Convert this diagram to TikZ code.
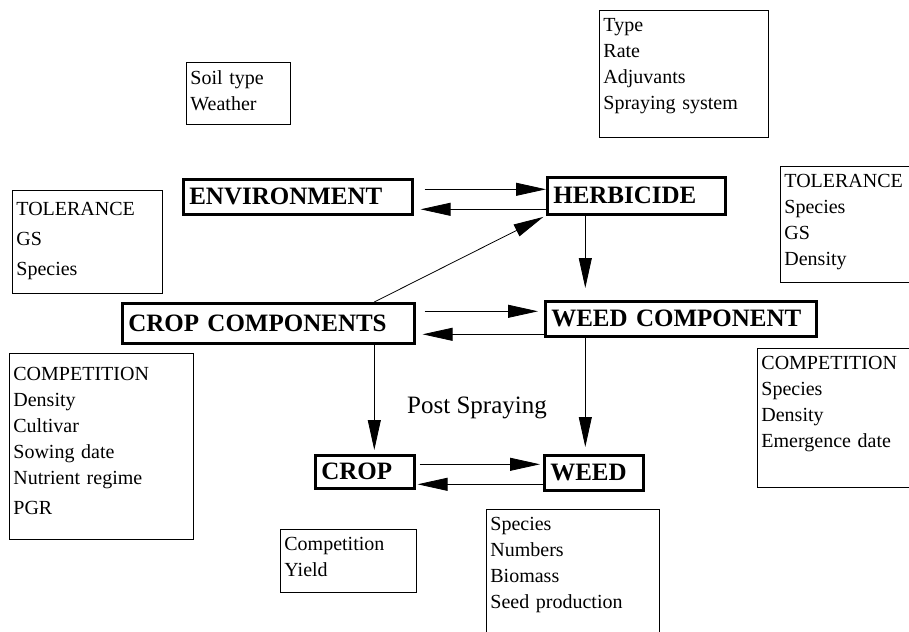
\documentclass[tikz,border=0pt]{standalone}
\usepackage{fontspec}
\setmainfont{Liberation Serif}
\usetikzlibrary{arrows.meta, positioning, calc}

% invisible rule that lengthens the last line of a box downwards
\newcommand{\boxpad}[1]{\rule[-#1pt]{0pt}{#1pt}}

\begin{document}
\begin{tikzpicture}[
		x=1pt, y=-1pt,
		mainbox/.style={draw, line width=2.6pt, inner xsep=6pt, inner ysep=0pt, align=left, anchor=north west, font=\bfseries\fontsize{25}{29}\selectfont},
		infobox/.style={draw, line width=0.8pt, inner xsep=4pt, inner ysep=8pt, align=left, anchor=north west, font=\fontsize{20}{26}\selectfont},
		arrow/.style={-{Triangle[length=30pt, width=13pt]}, line width=0.8pt}
		]
		\useasboundingbox (0,0) rectangle (909,631);
		
		% Nodes
		\node (environment) [mainbox, text width=217pt, minimum height=35pt] at (182,178) {ENVIRONMENT};
		\node (herbicide) [mainbox, text width=166pt, minimum height=37pt] at (546,176) {HERBICIDE};
		\node (cropcomp) [mainbox, text width=280pt, minimum height=40pt] at (121,302) {CROP COMPONENTS};
		\node (weedcomp) [mainbox, text width=259pt, minimum height=35pt] at (544,300) {WEED COMPONENT};
		\node (crop) [mainbox, text width=87pt, minimum height=33pt] at (314,454) {CROP};
		\node (weed) [mainbox, text width=87pt, minimum height=35pt] at (543,454) {WEED};
		\node (post) [font=\fontsize{25}{29}\selectfont] at (477,408) {Post Spraying};
		
		% Factor boxes
		\node (soil) [infobox, text width=96pt] at (186,62) {Soil type\\Weather\boxpad{6}};
		\node (spray) [infobox, text width=161pt] at (599,10) {Type\\Rate\\Adjuvants\\Spraying system\boxpad{20}};
		\node (croptol) [infobox, text width=142pt] at (12,190) {\rule{0pt}{17pt}TOLERANCE\\[4pt]GS\\[4pt]Species\boxpad{10}};
		\node (weedtol) [infobox, text width=140pt] at (780,166) {TOLERANCE\\Species\\GS\\Density\boxpad{9}};
		\node (cropcompet) [infobox, text width=176pt] at (9,353) {\rule{0pt}{19pt}COMPETITION\\Density\\Cultivar\\Sowing date\\Nutrient regime\\[4pt]PGR\boxpad{17}};
		\node (weedcompet) [infobox, text width=160pt] at (757,348) {COMPETITION\\Species\\Density\\Emergence date\boxpad{32}};
		\node (cropout) [infobox, text width=128pt] at (280,529) {Competition\\Yield\boxpad{8}};
		\node (weedout) [infobox, text width=165pt] at (486,509) {Species\\Numbers\\Biomass\\Seed production\boxpad{34}};
		
		% Arrows
		\draw[arrow, shorten <=11pt] ([yshift=7.5pt]environment.east) -- ([yshift=6.5pt]herbicide.west);
		\draw[arrow, shorten >=7pt] ([yshift=-13.5pt]herbicide.west) -- ([yshift=-12.5pt]environment.east);
		\draw[arrow, shorten <=9pt, shorten >=6pt] ([yshift=12pt]cropcomp.east) -- ([yshift=7.5pt]weedcomp.west);
		\draw[arrow, shorten >=7pt] ([yshift=-15.5pt]weedcomp.west) -- ([yshift=-11pt]cropcomp.east);
		\draw[arrow, shorten <=4pt, shorten >=3pt] ([yshift=7.5pt]crop.east) -- ([yshift=8.5pt]weed.west);
		\draw[arrow, shorten >=2pt] ([yshift=-11.5pt]weed.west) -- ([yshift=-12.5pt]crop.east);
		\draw[arrow, shorten >=12pt] ([xshift=-51pt]herbicide.south) -- ([xshift=-95.5pt]weedcomp.north);
		\draw[arrow, shorten >=4pt] ([xshift=106pt]cropcomp.south) -- ([xshift=9.5pt]crop.north);
		\draw[arrow, shorten >=7pt] ([xshift=-95.5pt]weedcomp.south) -- ([xshift=-8.5pt]weed.north);
		\draw[arrow, shorten >=3pt] ([xshift=106pt]cropcomp.north) -- (herbicide.south west);
		
	\end{tikzpicture}
\end{document}
